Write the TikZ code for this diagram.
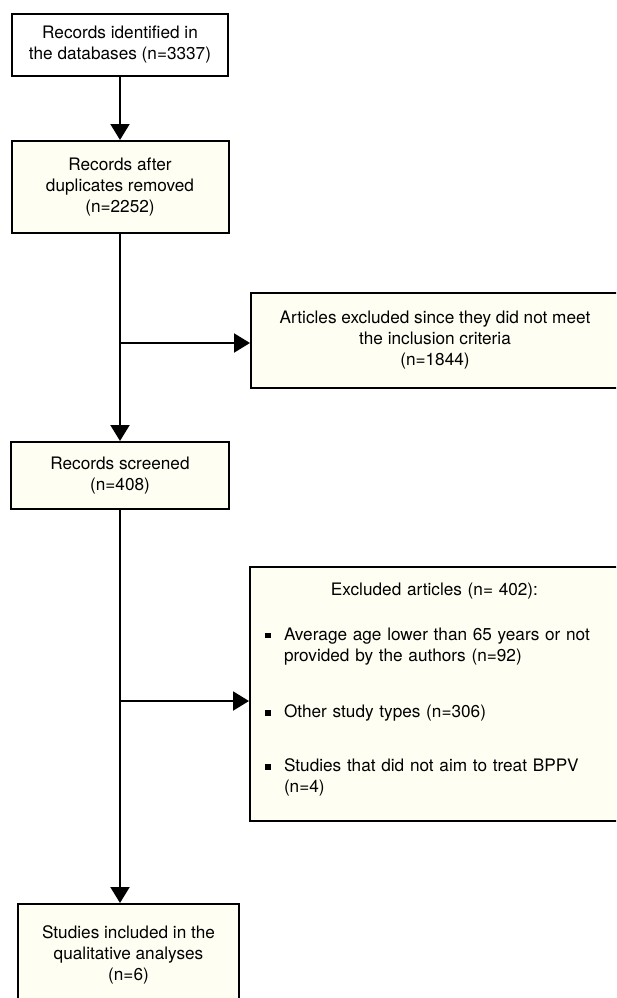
\documentclass[tikz,border=0pt]{standalone}
\usepackage{fontspec}
\setmainfont{TeX Gyre Heros}
\usetikzlibrary{positioning,arrows.meta}

\definecolor{boxfill}{RGB}{255,254,242}
\newcommand{\exitem}[1]{\par\noindent\makebox[19pt][l]{\rule[1.8pt]{5.5pt}{5.5pt}}\parbox[t]{310pt}{\raggedright#1}\par}

\begin{document}
\begin{tikzpicture}[x=1pt,y=-1pt,
	every node/.style={font=\fontsize{17.2}{21}\selectfont},
	flowbox/.style={draw,line width=2pt,fill=boxfill,align=center,inner sep=0pt},
	flow/.style={line width=2pt,-{Triangle[length=16pt,width=19pt]}}]

%\draw[color=black!30](0,0)grid[step=50](616,998);
\useasboundingbox (0,0) rectangle (616,998);
\clip (0,0) rectangle (616,998);

\node[flowbox,fill=white,minimum width=216pt,minimum height=62pt] (ident) at (120,45) {Records identified in\\the databases (n=3337)};
\node[flowbox,minimum width=217pt,minimum height=92pt] (dupl) at (120,187) {Records after\\duplicates removed\\(n=2252)};
\node[flowbox,minimum width=368pt,minimum height=95pt] (artexcl) at (435,340.5) {Articles excluded since they did not meet\\the inclusion criteria\\(n=1844)};
\node[flowbox,minimum width=218pt,minimum height=67pt] (screen) at (120,475.5) {Records screened\\(n=408)};
\node[flowbox,align=left,text width=339pt,minimum width=369pt,minimum height=254pt] (exclart) at (434.5,694) {{\centering Excluded articles (n= 402):\par}
	\vspace{24pt}
	\exitem{Average age lower than 65 years or not\\provided by the authors (n=92)}
	\vspace{39pt}
	\exitem{Other study types (n=306)}
	\vspace{33pt}
	\exitem{Studies that did not aim to treat BPPV\\(n=4)}
	\vspace{8pt}
	\noindent\rule{0pt}{0pt}};
\node[flowbox,minimum width=221pt,minimum height=102pt] (incl) at (128.5,955) {Studies included in the\\qualitative analyses\\(n=6)};

\coordinate (fork1) at (120,343);
\coordinate (fork2) at (120,701);

\draw[flow] (ident) -- (dupl);
\draw[flow] (dupl) -- (screen);
\draw[flow] (screen.south) -- (screen.south |- incl.north);
\draw[flow] (fork1) -- (fork1 -| artexcl.west);
\draw[flow] (fork2) -- (fork2 -| exclart.west);

\end{tikzpicture}
\end{document}
